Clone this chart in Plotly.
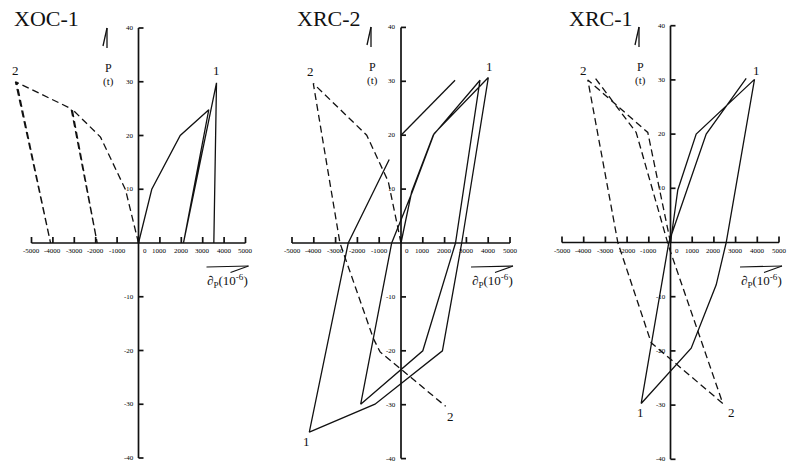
import plotly.graph_objects as go

W, H = 789, 468

# ---- axis ticks (shared by all three panels) ----
x_ticks = [-5000, -4000, -3000, -2000, -1000, 0, 1000, 2000, 3000, 4000, 5000]
x_tick_text = ["-5000", "-4000", "-3000", "-2000", "-1000", "0",
               "1000", "2000", "3000", "4000", "5000"]
y_ticks = [40, 30, 20, 10, -10, -20, -30, -40]
y_tick_text = ["40", "30", "20", "10", "-10", "-20", "-30", "-40"]

# ---- XOC-1 : strain (10^-6) vs load P (t) ----
xoc1_solid_x = [0, 620, 1950, 3285, 2100, 3645, 3520]
xoc1_solid_y = [0, 10, 20, 24.8, 0, 29.8, 0]
xoc1_dash_x = [0, -607, -1775, -3100, -1930, -3150, -5750, -4110, -5700]
xoc1_dash_y = [0, 9.9, 19.7, 24.9, 0, 25.0, 30.0, 0, 30.0]

# ---- XRC-2 ----
xrc2_solid_x = [0, 490, 1480, 3624, 2500, 1000, -1849, -427, 520, 1520, 4005,
                2784, 1900, -1193, -4206, -2420, -540, None, 0, 2480]
xrc2_solid_y = [0, 9.5, 20, 30.2, 0, -20, -29.9, 0, 9.5, 20.3, 30.7,
                0, -20, -29.9, -35.1, 0, 15.5, None, 20, 30.2]
xrc2_dash_x = [0, -583, -1573, -4023, -2800, -1270, -960, 2050]
xrc2_dash_y = [0, 11.4, 20, 29.6, 0, -17.7, -20.2, -30.3]

# ---- XRC-1 ----
xrc1_solid_x = [0, 336, 1184, 3871, 2567, 2106, 954, -1350, -889, -78, 1645, 3488]
xrc1_solid_y = [0, 9.7, 20, 30.1, 0, -7.8, -19.5, -29.7, -18.9, 0, 20, 30.3]
xrc1_dash_x = [0, -1046, -3811, -2427, -889, 2410, -78, -1581, -3502]
xrc1_dash_y = [0, 20.3, 30, 0, -18.5, -29.7, -0.8, 20.3, 30.5]

# panel geometry: pixel origin, pixel scale per unit, horizontal pixel span
panels = [
    dict(title="XOC-1", ox=138.5, oy=243.0, sx=0.0214, sy=5.375, span=(0, 263),
         solid=(xoc1_solid_x, xoc1_solid_y), dash=(xoc1_dash_x, xoc1_dash_y),
         title_px=(12, 19), ptxt=(107, 28),
         labels=[("2", 16, 70), ("1", 216, 70)]),
    dict(title="XRC-2", ox=401.0, oy=243.0, sx=0.0218, sy=5.39, span=(263, 530),
         solid=(xrc2_solid_x, xrc2_solid_y), dash=(xrc2_dash_x, xrc2_dash_y),
         title_px=(295, 19), ptxt=(371, 27),
         labels=[("2", 310, 71), ("1", 489, 67), ("1", 306, 441), ("2", 450, 416)]),
    dict(title="XRC-1", ox=670.5, oy=242.5, sx=0.0217, sy=5.42, span=(530, 789),
         solid=(xrc1_solid_x, xrc1_solid_y), dash=(xrc1_dash_x, xrc1_dash_y),
         title_px=(567, 19), ptxt=(639, 27),
         labels=[("2", 583, 70), ("1", 756, 70), ("1", 640, 412), ("2", 731, 412)]),
]

SERIF = "Liberation Serif, Times New Roman, serif"
INK = "#111111"


def paper(px, py):
    return px / W, 1 - py / H


def note(px, py, text, size, **kw):
    u, v = paper(px, py)
    d = dict(x=u, y=v, xref="paper", yref="paper", text=text, showarrow=False,
             xanchor="center", yanchor="middle",
             font=dict(family=SERIF, size=size, color=INK))
    d.update(kw)
    return d


def seg(x0, y0, x1, y1, width):
    u0, v0 = paper(x0, y0)
    u1, v1 = paper(x1, y1)
    return dict(type="line", xref="paper", yref="paper", x0=u0, y0=v0,
                x1=u1, y1=v1, line=dict(color=INK, width=width))


fig = go.Figure()
annotations = []
shapes = []
layout_axes = {}

for i, p in enumerate(panels, start=1):
    xa = "x" if i == 1 else f"x{i}"
    ya = "y" if i == 1 else f"y{i}"
    a0, a1 = p["span"]
    layout_axes["xaxis" if i == 1 else f"xaxis{i}"] = dict(
        domain=[a0 / W, a1 / W],
        range=[(a0 - p["ox"]) / p["sx"], (a1 - p["ox"]) / p["sx"]],
        visible=False, fixedrange=True, anchor=ya)
    layout_axes["yaxis" if i == 1 else f"yaxis{i}"] = dict(
        domain=[0, 1],
        range=[(p["oy"] - H) / p["sy"], p["oy"] / p["sy"]],
        visible=False, fixedrange=True, anchor=xa)

    # axis lines with tick marks (x ticks point up, y ticks point right)
    tx_len = 6 / p["sy"]
    ty_len = 5 / p["sx"]
    ax_x = [x_ticks[0], x_ticks[-1], None, 0, 0, None]
    ax_y = [0, 0, None, -40, 40, None]
    for t in x_ticks:
        ax_x += [t, t, None]
        ax_y += [0, tx_len, None]
    for t in y_ticks:
        ax_x += [0, ty_len, None]
        ax_y += [t, t, None]
    fig.add_trace(go.Scatter(x=ax_x, y=ax_y, mode="lines", xaxis=xa, yaxis=ya,
                             line=dict(color=INK, width=1.7), hoverinfo="skip"))

    # curves
    sx_, sy_ = p["solid"]
    fig.add_trace(go.Scatter(x=sx_, y=sy_, mode="lines", xaxis=xa, yaxis=ya,
                             line=dict(color=INK, width=1.3), connectgaps=False,
                             name="1"))
    dx_, dy_ = p["dash"]
    fig.add_trace(go.Scatter(x=dx_, y=dy_, mode="lines", xaxis=xa, yaxis=ya,
                             line=dict(color=INK, width=1.3, dash="7px,4px"),
                             name="2"))

    # tick labels
    for t, s in zip(x_ticks, x_tick_text):
        annotations.append(dict(x=t, y=0, xref=xa, yref=ya, text=s, showarrow=False,
                                xanchor="center", yanchor="top", yshift=-2,
                                xshift=6 if t == 0 else 0,
                                font=dict(family=SERIF, size=7, color="black")))
    for t, s in zip(y_ticks, y_tick_text):
        annotations.append(dict(x=0, y=t, xref=xa, yref=ya, text=s, showarrow=False,
                                xanchor="right", yanchor="middle", xshift=-3,
                                font=dict(family=SERIF, size=7, color="black")))

    # panel title
    annotations.append(note(*p["title_px"], p["title"], 22, xanchor="left"))

    # P (t) label with its half arrow
    px0, py0 = p["ptxt"]
    shapes.append(seg(px0, py0, px0, py0 + 20, 1.3))
    shapes.append(seg(px0, py0, px0 - 4, py0 + 18, 1.3))
    annotations.append(note(px0 + 1, py0 + 40, "P", 12))
    annotations.append(note(px0 + 1, py0 + 53, "(t)", 11))

    # strain label with half arrow
    hx1 = p["ox"] + 5000 * p["sx"] + 3
    hx0 = hx1 - 42
    shapes.append(seg(hx0, 267, hx1, 266, 1.2))
    shapes.append(seg(hx1 - 18, 272.5, hx1, 266, 1.2))
    annotations.append(note(hx1 - 21, 281, "∂<sub>P</sub>(10<sup>-6</sup>)", 13))

    # curve numbers
    for s, lx, ly in p["labels"]:
        annotations.append(note(lx, ly, s, 13))

fig.update_layout(
    width=W, height=H, margin=dict(l=0, r=0, t=0, b=0),
    paper_bgcolor="white", plot_bgcolor="white", showlegend=False,
    annotations=annotations, shapes=shapes, **layout_axes)

fig.write_html("out.html")
